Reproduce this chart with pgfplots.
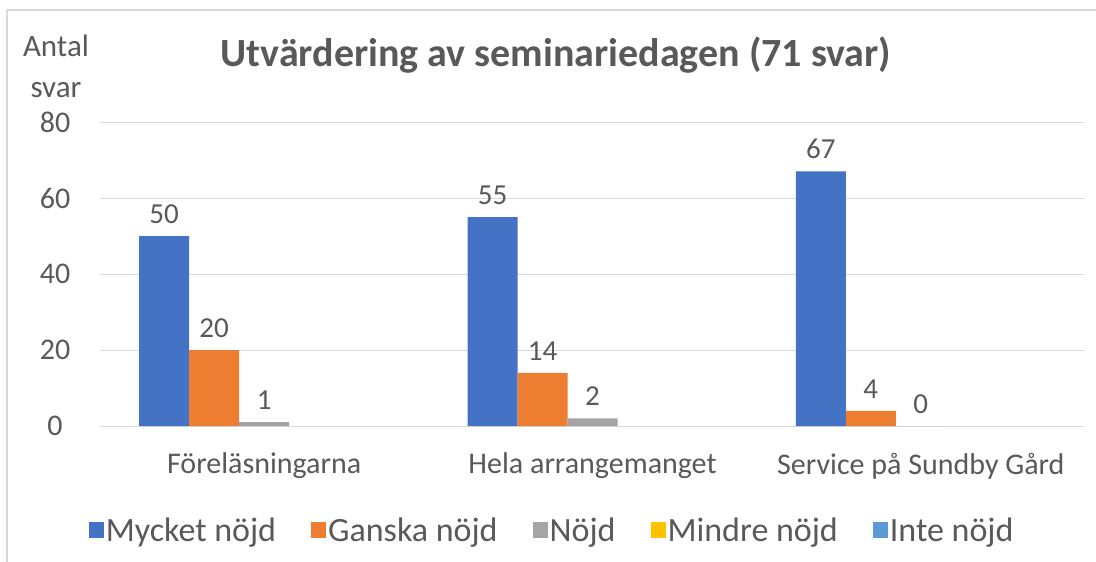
\documentclass[border=0pt]{standalone}
\usepackage{pgfplots}
\pgfplotsset{compat=1.18}
\usepackage{fontspec}
\setmainfont{Carlito}
\definecolor{c1}{HTML}{4472C4}
\definecolor{c2}{HTML}{ED7D31}
\definecolor{c3}{HTML}{A5A5A5}
\definecolor{c4}{HTML}{FFC000}
\definecolor{c5}{HTML}{5B9BD5}
\definecolor{txt}{HTML}{595959}
\definecolor{gridc}{HTML}{D9D9D9}
\begin{document}
\begin{tikzpicture}[x=1pt,y=1pt]
\useasboundingbox (0,0) rectangle (1096,-562);
\draw[gridc, line width=1.5pt] (7,-562) -- (7,-10) -- (1096,-10);
\node[font=\fontsize{31}{41}\selectfont, text=txt, align=center, inner sep=0pt] at (56,-66) {Antal\\svar};
\node[font=\fontsize{40}{46}\selectfont\bfseries, text=txt, inner sep=0pt] at (556,-55) {Utvärdering av seminariedagen (71 svar)};
\begin{axis}[
  at={(100pt,-426pt)}, anchor=south west,
  width=985pt, height=304pt, scale only axis,
  xmin=-0.5, xmax=2.5, ymin=0, ymax=80,
  ytick={0,20,40,60,80},
  xtick={0,1,2},
  xticklabels={Föreläsningarna, Hela arrangemanget, Service på Sundby Gård},
  ymajorgrids, grid style={gridc, line width=1pt},
  axis line style={draw=none},
  major tick length=0pt,
  ybar, bar width=50pt,
  tick label style={font=\fontsize{30}{36}\selectfont, text=txt},
  yticklabel style={anchor=center, xshift=-45pt},
  xticklabel style={anchor=center, yshift=-40pt},
  /pgf/number format/assume math mode=true,
  nodes near coords,
  every node near coord/.append style={font=\fontsize{29}{34}\selectfont, text=txt, anchor=south, yshift=9pt},
  legend columns=5,
  legend style={draw=none, at={(0.459,-0.342)}, anchor=center, font=\fontsize{34}{40}\selectfont, text=txt,
    /tikz/every even column/.append style={column sep=33pt},
    nodes={inner sep=2pt}},
  legend image code/.code={\fill[#1] (0pt,-8pt) rectangle (15pt,8pt);},
]
\addplot[fill=c1, draw=none, bar shift=-100pt] coordinates {(0,50) (1,55) (2,67)};
\addplot[fill=c2, draw=none, bar shift=-50pt] coordinates {(0,20) (1,14) (2,4)};
\addplot[fill=c3, draw=none, bar shift=0pt] coordinates {(0,1) (1,2) (2,0)};
\addlegendimage{fill=c4, draw=none}
\addlegendimage{fill=c5, draw=none}
\legend{Mycket nöjd, Ganska nöjd, Nöjd, Mindre nöjd, Inte nöjd}
\end{axis}
\end{tikzpicture}
\end{document}
